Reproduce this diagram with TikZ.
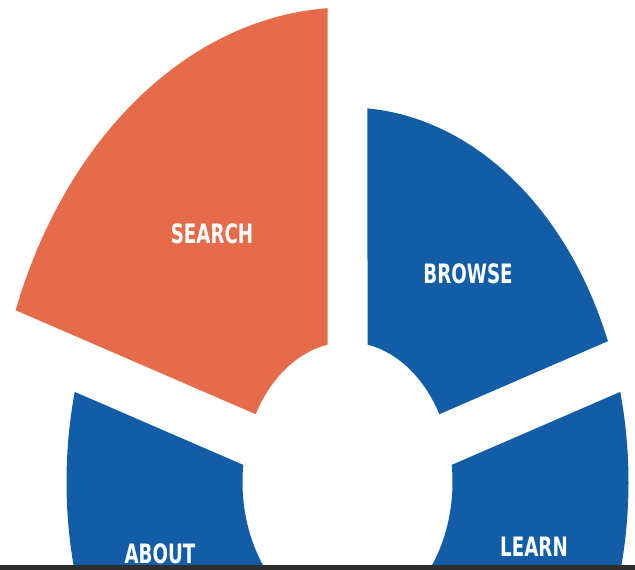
\documentclass[tikz,border=0pt]{standalone}
\usepackage{fontspec}
\newfontfamily\lblfont{DejaVu Sans Condensed Bold}
\definecolor{segorange}{RGB}{229,107,74}
\definecolor{segblue}{RGB}{18,93,166}
\definecolor{barcol}{RGB}{46,46,46}
\newcommand\drawseg[4]{%
  \pgfmathsetmacro\segai{#2+asin(20/105)}%
  \pgfmathsetmacro\segao{#2+asin(20/#4)}%
  \pgfmathsetmacro\segbo{#3-asin(20/#4)}%
  \pgfmathsetmacro\segbi{#3-asin(20/105)}%
  \fill[#1] (\segai:105) -- (\segao:#4)
    arc[start angle=\segao, end angle=\segbo, radius=#4]
    -- (\segbi:105)
    arc[start angle=\segbi, end angle=\segai, radius=105] -- cycle;
}
\begin{document}
\begin{tikzpicture}[x=1pt,y=1pt,
  lbl/.style={text=white, font=\lblfont\fontsize{26.7}{30}\selectfont, inner sep=0pt, anchor=center}]
\useasboundingbox (0,0) rectangle (635,570);
\clip (0,0) rectangle (635,570);
\begin{scope}[shift={(347.5,88)}, yscale=1.333]
  \drawseg{segorange}{90}{162}{356}
  \drawseg{segblue}{18}{90}{281}
  \drawseg{segblue}{-54}{18}{281}
  \drawseg{segblue}{162}{234}{281}
\end{scope}
\node[lbl] (search) at (212,336) {\scalebox{0.76}[1]{SEARCH}};
\node[lbl] (browse) at (468,296.7) {\scalebox{0.76}[1]{BROWSE}};
\node[lbl] (about) at (160,16) {\scalebox{0.76}[1]{ABOUT}};
\node[lbl] (learn) at (534,23.3) {\scalebox{0.76}[1]{LEARN}};
\fill[barcol] (0,0) rectangle (635,5);
\end{tikzpicture}
\end{document}
